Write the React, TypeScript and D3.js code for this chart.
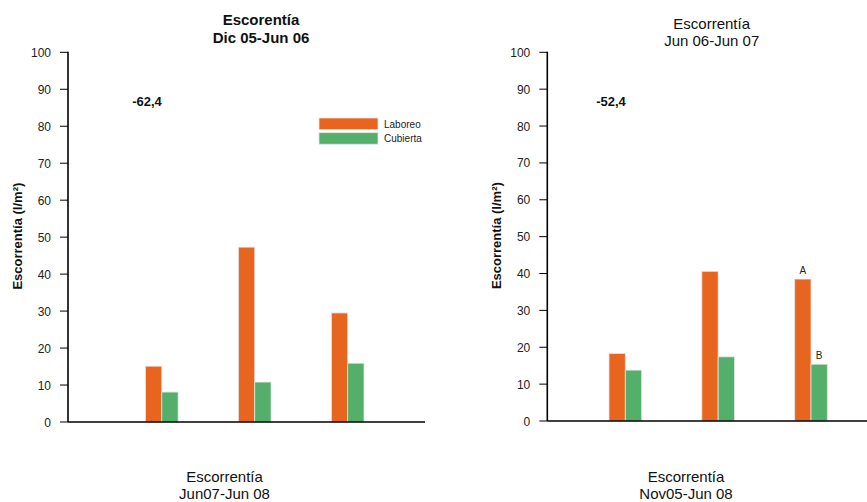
import React from "react";
import * as d3 from "d3";

const categories = ["g1", "g2", "g3"];
const seriesNames = ["Laboreo", "Cubierta"];
const leftLaboreo = [15.1, 47.3, 29.5];
const leftCubierta = [8.1, 10.8, 15.9];
const rightLaboreo = [18.3, 40.6, 38.5];
const rightCubierta = [13.8, 17.4, 15.4];
const yTicks = [0, 10, 20, 30, 40, 50, 60, 70, 80, 90, 100];
const rightLetters = ["", "", "A"];
const rightLettersCub = ["", "", "B"];

const ORANGE = "#E8651F";
const GREEN = "#53AF6A";
const FONT = "'Liberation Sans', Arial, Helvetica, sans-serif";

type PanelProps = {
  axisX: number;
  axisEnd: number;
  y0: number;
  y100: number;
  firstCenter: number;
  lastCenter: number;
  laboreo: number[];
  cubierta: number[];
  note: string;
  noteX: number;
  titleX: number;
  titleLines: string[];
  titleBold: boolean;
  titleY: number[];
  yTitleX: number;
  bottomX: number;
  bottomLines: string[];
  legend?: boolean;
  letters?: string[];
  lettersCub?: string[];
};

function Panel(p: PanelProps) {
  const y = d3.scaleLinear().domain([0, 100]).range([p.y0, p.y100]);
  const x = d3.scalePoint<string>().domain(categories).range([p.firstCenter, p.lastCenter]);
  const bw = 16.3;
  return (
    <g fontFamily={FONT}>
      {p.titleLines.map((t, i) => (
        <text key={i} x={p.titleX} y={p.titleY[i]} textAnchor="middle" fontSize={15}
          fontWeight={p.titleBold ? "bold" : "normal"} fill="#111">{t}</text>
      ))}
      {categories.map((c, i) => {
        const cx = x(c) as number;
        return (
          <g key={c}>
            <rect x={cx - bw} y={y(p.laboreo[i])} width={bw} height={y(0) - y(p.laboreo[i])}
              fill={ORANGE} stroke="#e4e4e4" strokeWidth={0.8} />
            <rect x={cx} y={y(p.cubierta[i])} width={bw} height={y(0) - y(p.cubierta[i])}
              fill={GREEN} stroke="#e4e4e4" strokeWidth={0.8} />
            {p.letters && p.letters[i] ? (
              <text x={cx - bw / 2} y={y(p.laboreo[i]) - 5} textAnchor="middle" fontSize={10} fill="#222">{p.letters[i]}</text>
            ) : null}
            {p.lettersCub && p.lettersCub[i] ? (
              <text x={cx + bw / 2} y={y(p.cubierta[i]) - 5} textAnchor="middle" fontSize={10} fill="#222">{p.lettersCub[i]}</text>
            ) : null}
          </g>
        );
      })}
      <line x1={p.axisX} x2={p.axisX} y1={y(100) - 0.5} y2={y(0)} stroke="#000" strokeWidth={1.6} />
      {yTicks.map((t) => (
        <g key={t}>
          <line x1={p.axisX - 8} x2={p.axisX} y1={y(t)} y2={y(t)} stroke="#000" strokeWidth={1} />
          <text x={p.axisX - 17} y={y(t) + 4.5} textAnchor="end" fontSize={12} fill="#222">{t}</text>
        </g>
      ))}
      <line x1={p.axisX} x2={p.axisEnd} y1={y(0)} y2={y(0)} stroke="#000" strokeWidth={1.6} />
      <text transform={`translate(${p.yTitleX},${(p.y0 + p.y100) / 2 - 1}) rotate(-90)`} textAnchor="middle"
        fontSize={13} fontWeight="bold" fill="#111">Escorrentía (l/m²)</text>
      <text x={p.noteX} y={106} textAnchor="middle" fontSize={13} fontWeight="bold" fill="#111">{p.note}</text>
      {p.bottomLines.map((t, i) => (
        <text key={i} x={p.bottomX} y={482 + i * 17} textAnchor="middle" fontSize={15} fill="#111">{t}</text>
      ))}
      {p.legend ? (
        <g>
          {seriesNames.map((s, i) => (
            <g key={s}>
              <rect x={319} y={118 + i * 14.7} width={59} height={11.5} fill={i === 0 ? ORANGE : GREEN}
                stroke="#e4e4e4" strokeWidth={0.8} />
              <text x={384} y={127.5 + i * 14.7} fontSize={10} fill="#222">{s}</text>
            </g>
          ))}
        </g>
      ) : null}
    </g>
  );
}

export default function App() {
  return (
    <svg width={867} height={502} style={{ position: "absolute", left: 0, top: 0, background: "#fff" }}>
      <rect width={867} height={502} fill="#fff" />
      <Panel axisX={68} axisEnd={425} y0={422} y100={52.3} firstCenter={161.8} lastCenter={347.7}
        laboreo={leftLaboreo} cubierta={leftCubierta} note="-62,4" noteX={147}
        titleX={261} titleLines={["Escorentía", "Dic 05-Jun 06"]} titleBold={true} titleY={[25, 43]}
        yTitleX={22} bottomX={224.5} bottomLines={["Escorrentía", "Jun07-Jun 08"]} legend={true} />
      <Panel axisX={547.3} axisEnd={867} y0={421} y100={52.3} firstCenter={625.3} lastCenter={811}
        laboreo={rightLaboreo} cubierta={rightCubierta} note="-52,4" noteX={611}
        titleX={711.7} titleLines={["Escorrentía", "Jun 06-Jun 07"]} titleBold={false} titleY={[29, 46]}
        yTitleX={501} bottomX={686} bottomLines={["Escorrentía", "Nov05-Jun 08"]}
        letters={rightLetters} lettersCub={rightLettersCub} />
    </svg>
  );
}
